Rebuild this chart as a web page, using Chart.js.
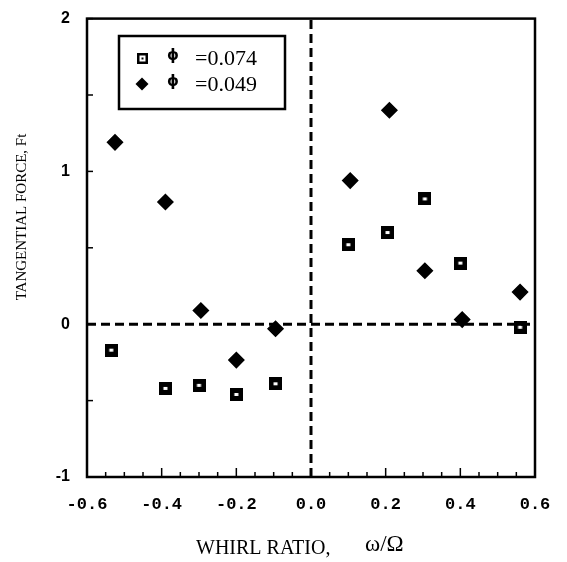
<!DOCTYPE html>
<html>
<head>
<meta charset="utf-8">
<script src="https://cdn.jsdelivr.net/npm/chart.js@4"></script>
<style>
  html, body { margin: 0; padding: 0; background: #fff; }
  #wrap { width: 567px; height: 562px; }
</style>
</head>
<body>
<div id="wrap"><canvas id="chart" width="567" height="562"></canvas></div>
<script>
// values
const whirl074 = [-0.535, -0.39, -0.30, -0.20, -0.095, 0.10, 0.205, 0.305, 0.40, 0.56];
const force074 = [-0.17, -0.42, -0.40, -0.46, -0.39, 0.52, 0.60, 0.82, 0.40, -0.02];
const whirl049 = [-0.525, -0.39, -0.295, -0.20, -0.095, 0.105, 0.21, 0.305, 0.405, 0.56];
const force049 = [1.19, 0.80, 0.09, -0.235, -0.03, 0.94, 1.40, 0.35, 0.03, 0.21];
const seriesLabels = ['=0.074', '=0.049'];
const xRange = [-0.6, 0.6];
const yRange = [-1, 2];

const toPoints = (xs, ys) => xs.map((x, i) => ({x: x, y: ys[i]}));

// black square with a small white centre
function squareMarker(size, hw, hh, dot) {
    const c = document.createElement('canvas');
    c.width = size; c.height = size;
    const g = c.getContext('2d');
    g.fillStyle = '#000';
    g.fillRect(0, 0, size, size);
    g.fillStyle = '#fff';
    g.fillRect((size - hw) / 2, (size - hh) / 2, hw, hh);
    if (dot) {
        g.fillStyle = '#000';
        g.fillRect(size / 2 - 1, size / 2 - 1, 2, 2);
    }
    return c;
}
const squareBig = squareMarker(13, 4, 3, false);
const squareSmall = squareMarker(11, 6, 6, true);

const frameAndTicks = {
    id: 'frameAndTicks',
    beforeDatasetsDraw(chart) {
        const {ctx, chartArea: a, scales: {x, y}} = chart;
        ctx.save();
        ctx.strokeStyle = '#000';
        ctx.lineWidth = 1.5;
        x.ticks.forEach(t => {
            const px = x.getPixelForValue(t.value);
            const major = Math.abs(Math.round(t.value / 0.2) * 0.2 - t.value) < 1e-6;
            ctx.beginPath();
            ctx.moveTo(px, a.bottom);
            ctx.lineTo(px, a.bottom - (major ? 9 : 5));
            ctx.stroke();
        });
        y.ticks.forEach(t => {
            const py = y.getPixelForValue(t.value);
            ctx.beginPath();
            ctx.moveTo(a.left, py);
            ctx.lineTo(a.left + 6, py);
            ctx.stroke();
        });
        ctx.lineWidth = 2.5;
        ctx.strokeRect(a.left, a.top, a.right - a.left, a.bottom - a.top);
        ctx.restore();
    },
    afterDraw(chart) {
        const {ctx} = chart;
        ctx.save();
        ctx.fillStyle = '#000';
        // axis titles
        ctx.textAlign = 'left';
        ctx.textBaseline = 'middle';
        ctx.font = '20px "Liberation Serif"';
        ctx.fillText('WHIRL RATIO,', 196, 549);
        ctx.font = '23px "Liberation Serif"';
        ctx.fillText('\u03C9/\u03A9', 365, 545);
        ctx.translate(22, 217);
        ctx.rotate(-Math.PI / 2);
        ctx.textAlign = 'center';
        ctx.font = '15px "Liberation Serif"';
        ctx.fillText('TANGENTIAL FORCE, Ft', 0, 0);
        ctx.restore();

        // legend box
        ctx.save();
        ctx.strokeStyle = '#000';
        ctx.lineWidth = 2.5;
        ctx.strokeRect(119, 36, 166, 73);
        const rows = [58, 84];
        chart.data.datasets.filter(d => d.inLegend).forEach((d, i) => {
            const yy = rows[i];
            if (d.pointStyle === 'rectRot') {
                ctx.fillStyle = '#000';
                ctx.beginPath();
                ctx.moveTo(142, yy - 6.5);
                ctx.lineTo(148.5, yy);
                ctx.lineTo(142, yy + 6.5);
                ctx.lineTo(135.5, yy);
                ctx.closePath();
                ctx.fill();
            } else {
                ctx.drawImage(squareSmall, 137, yy - 5);
            }
            ctx.fillStyle = '#000';
            ctx.textBaseline = 'middle';
            ctx.textAlign = 'center';
            ctx.font = 'bold 15px "DejaVu Sans"';
            ctx.fillText('\u03D5', 173, yy - 2);
            ctx.textAlign = 'left';
            ctx.font = '22px "Liberation Serif"';
            ctx.fillText(d.label, 195, yy + 1);
        });
        ctx.restore();
    }
};

new Chart(document.getElementById('chart'), {
    type: 'scatter',
    data: {
        datasets: [
            {
                label: 'zero-y',
                data: toPoints(xRange, [0, 0]),
                showLine: true,
                borderColor: '#000',
                borderWidth: 3,
                borderDash: [9, 5],
                pointRadius: 0
            },
            {
                label: 'zero-x',
                data: toPoints([0, 0], yRange),
                showLine: true,
                borderColor: '#000',
                borderWidth: 3,
                borderDash: [9, 5],
                pointRadius: 0
            },
            {
                label: seriesLabels[0],
                inLegend: true,
                data: toPoints(whirl074, force074),
                pointStyle: squareBig,
                pointRadius: 7,
                backgroundColor: '#000',
                borderColor: '#000'
            },
            {
                label: seriesLabels[1],
                inLegend: true,
                data: toPoints(whirl049, force049),
                pointStyle: 'rectRot',
                pointRadius: 7.5,
                borderWidth: 1.5,
                backgroundColor: '#000',
                borderColor: '#000'
            }
        ]
    },
    options: {
        responsive: false,
        animation: false,
        layout: {padding: {left: 0, top: 16, right: 32, bottom: 0}},
        plugins: {legend: {display: false}, tooltip: {enabled: false}},
        scales: {
            x: {
                min: xRange[0],
                max: xRange[1],
                afterFit: s => { s.height = 85; },
                grid: {display: false},
                border: {display: false},
                ticks: {
                    stepSize: 0.05,
                    autoSkip: false,
                    maxRotation: 0,
                    padding: 10,
                    color: '#000',
                    font: {family: '"Liberation Mono"', size: 17, weight: 'bold'},
                    callback: v => Math.abs(Math.round(v / 0.2) * 0.2 - v) < 1e-6 ? (Math.round(v * 10) / 10).toFixed(1) : ''
                }
            },
            y: {
                min: yRange[0],
                max: yRange[1],
                afterFit: s => { s.width = 87; },
                grid: {display: false},
                border: {display: false},
                ticks: {
                    stepSize: 0.5,
                    padding: 9,
                    color: '#000',
                    font: {family: '"Liberation Sans"', size: 16, weight: 'bold'},
                    callback: v => Number.isInteger(v) ? String(v) : ''
                }
            }
        }
    },
    plugins: [frameAndTicks]
});
</script>
</body>
</html>
